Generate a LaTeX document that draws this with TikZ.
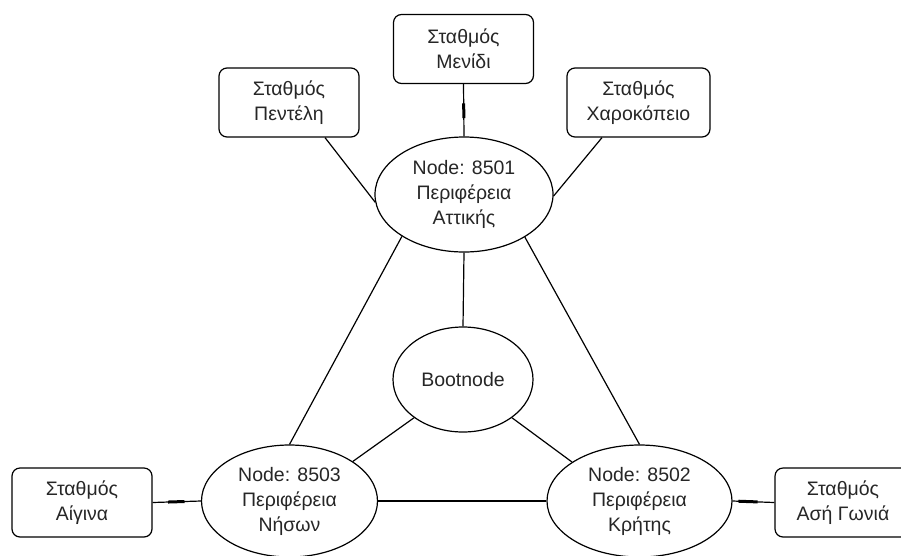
\documentclass[tikz,border=0pt]{standalone}
\usepackage{fontspec}
\setmainfont{Liberation Sans}
\usetikzlibrary{shapes.geometric,calc}
\begin{document}
\begin{tikzpicture}[x=1pt,y=-1pt,
  every node/.style={font=\fontsize{19.5}{25}\selectfont, text=black!85, align=center, inner sep=0pt},
  station/.style={draw, line width=1.2pt, rounded corners=8pt, minimum width=140pt, minimum height=69pt},
  region/.style={draw, line width=1.2pt, ellipse},
  link/.style={draw, line width=1.2pt},
  joint/.style={line width=3pt}]
\useasboundingbox (0,0) rectangle (901,555);

% stations
\node[station] (men) at (463.5,49) {Σταθμός\\Μενίδι};
\node[station] (pen) at (289,102.5) {Σταθμός\\Πεντέλη};
\node[station, minimum width=143pt] (har) at (638.5,102.5) {Σταθμός\\Χαροκόπειο};
\node[station] (aig) at (82,502.5) {Σταθμός\\Αίγινα};
\node[station, minimum width=136pt] (asi) at (843,502.5) {Σταθμός\\Ασή Γωνιά};

% regional nodes
\node[region, minimum width=178pt, minimum height=115pt] (att) at (464,194.5) {Node: 8501\\Περιφέρεια\\Αττικής};
\node[region, minimum width=140pt, minimum height=105pt] (boot) at (463,379.5) {Bootnode};
\node[region, minimum width=176pt, minimum height=112pt] (nis) at (289.5,501) {Node: 8503\\Περιφέρεια\\Νήσων};
\node[region, minimum width=185pt, minimum height=112pt] (kri) at (639.5,501) {Node: 8502\\Περιφέρεια\\Κρήτης};

% station links
\draw[link] (men.south) -- (att.north);
\draw[link] ([xshift=36pt]pen.south) -- (att.185);
\draw[link] ([xshift=-36.5pt]har.south) -- (att.-1);
\draw[link] (aig.east) -- (nis.west);
\draw[link] (kri.east) -- (asi.west);

% connection joints
\draw[joint] ($(men.south)!0.37!(att.north)$) -- ($(men.south)!0.65!(att.north)$);
\draw[joint] ($(aig.east)!0.32!(nis.west)$) -- ($(aig.east)!0.66!(nis.west)$);
\draw[joint] ($(kri.east)!0.14!(asi.west)$) -- ($(kri.east)!0.6!(asi.west)$);

% network links
\draw[link] (att.214) -- (nis.north);
\draw[link] (att.325) -- (kri.north);
\draw[link] (att.south) -- (boot.north);
\draw[link] (boot.218) -- (nis.32);
\draw[link] (boot.322) -- (kri.150);
\draw[link] (nis.east) -- (kri.west);
\end{tikzpicture}
\end{document}
